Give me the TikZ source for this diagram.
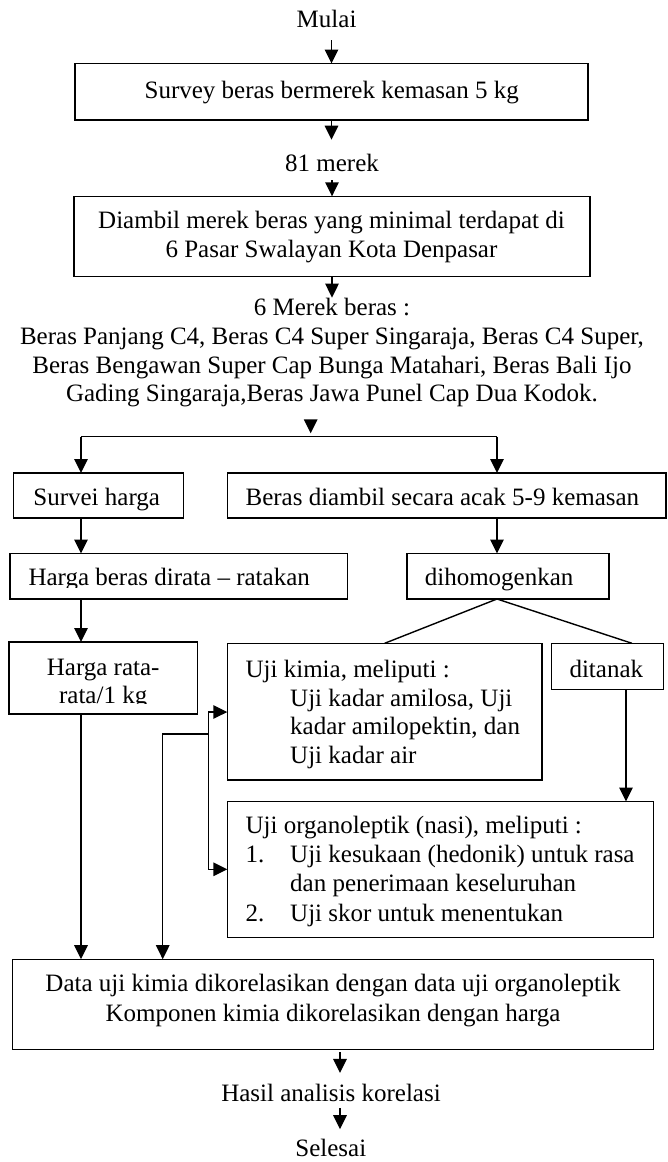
\documentclass[tikz,border=0pt]{standalone}
\usepackage{fontspec}
\setmainfont{Liberation Serif}
\usetikzlibrary{arrows.meta}
\newcommand{\fstrut}{\rule{0pt}{18pt}}
\begin{document}
\begin{tikzpicture}[x=1pt,y=-1pt,
  bx/.style={draw, line width=1.4pt, inner sep=0pt, outer sep=0pt},
  tx/.style={inner sep=0pt, outer sep=0pt, font=\fontsize{25}{28.75}\selectfont},
  txw/.style={inner sep=0pt, outer sep=0pt, font=\fontsize{25}{29.3}\selectfont},
  ln/.style={line width=1.4pt},
  arr/.style={line width=1.4pt, -{Triangle[length=14pt,width=13.5pt]}}]

\fill[white] (0,0) rectangle (667,1162);
\useasboundingbox (0,0) rectangle (667,1162);

% boxes
\node[bx, minimum width=513pt, minimum height=56.5pt] (survey) at (331.5,91.75) {};
\node[bx, minimum width=516pt, minimum height=79.9pt] (diambil) at (332,236.25) {};
\node[bx, minimum width=170pt, minimum height=45pt] (survei) at (98.5,495.5) {};
\node[bx, minimum width=438.5pt, minimum height=45pt] (berasd) at (446.55,495.5) {};
\node[bx, minimum width=337.5pt, minimum height=45.5pt] (hargab) at (178.75,576.25) {};
\node[bx, minimum width=202pt, minimum height=45.5pt] (dihomo) at (508,576.25) {};
\node[bx, minimum width=188.7pt, minimum height=71.8pt] (hargar) at (103.35,677.9) {};
\node[bx, minimum width=314.7pt, minimum height=136.7pt] (kimia) at (384.65,711.65) {};
\node[bx, minimum width=112pt, minimum height=45.9pt] (ditanak) at (607.7,666.25) {};
\node[bx, minimum width=426.4pt, minimum height=135.7pt] (organo) at (440.5,869.35) {};
\node[bx, minimum width=641.1pt, minimum height=90.3pt] (data) at (333.15,1004.35) {};

% texts
\node[tx, anchor=base] (mulai) at (326.6,27.3) {Mulai};
\node[tx, anchor=base] (surveyt) at (331.7,98.3) {Survey beras bermerek kemasan 5 kg};
\node[tx, anchor=base] (merek81) at (332,171.7) {81 merek};
\node[tx, anchor=north, align=center] (diambilt) at (331.5,210.3)
  {\fstrut Diambil merek beras yang minimal terdapat di\\6 Pasar Swalayan Kota Denpasar};
\node[tx, anchor=north, align=center] (list) at (332,297.6)
  {\fstrut 6 Merek beras :\\Beras Panjang C4, Beras C4 Super Singaraja, Beras C4 Super,\\Beras Bengawan Super Cap Bunga Matahari, Beras Bali Ijo\\Gading Singaraja,Beras Jawa Punel Cap Dua Kodok.};
\node[tx, anchor=base west] (surveit) at (33.4,505) {Survei harga};
\node[tx, anchor=base west] (berasdt) at (245.6,505) {Beras diambil secara acak 5-9 kemasan};
\node[tx, anchor=base west] (hargabt) at (28.5,585.7) {Harga beras dirata -- ratakan};
\node[tx, anchor=base west] (dihomot) at (424.8,585.7) {dihomogenkan};
\node[tx, anchor=north, align=center] (hargart) at (103.2,657) {\fstrut Harga rata-\\rata/1 kg};
\node[tx, anchor=north west, align=left] (kimiat) at (245.6,659.3)
  {\fstrut Uji kimia, meliputi :\\
   \hspace*{44.6pt}Uji kadar amilosa, Uji\\
   \hspace*{44.6pt}kadar amilopektin, dan\\
   \hspace*{44.6pt}Uji kadar air};
\node[tx, anchor=base west] (ditanakt) at (569.5,677.3) {ditanak};
\node[txw, anchor=north west, align=left] (organot) at (245.6,815.3)
  {\fstrut Uji organoleptik (nasi), meliputi :\\
   \makebox[44.6pt][l]{1.}Uji kesukaan (hedonik) untuk rasa\\
   \hspace*{44.6pt}dan penerimaan keseluruhan\\
   \makebox[44.6pt][l]{2.}Uji skor untuk menentukan};
\node[txw, anchor=north, align=center] (datat) at (333,973.7)
  {\fstrut Data uji kimia dikorelasikan dengan data uji organoleptik\\Komponen kimia dikorelasikan dengan harga};
\node[tx, anchor=base] (hasil) at (331,1101.7) {Hasil analisis korelasi};
\node[tx, anchor=base] (selesai) at (330.8,1156.5) {Selesai};

% clipped descenders as in the reference
\fill[white] (11,588.3) rectangle (346.3,598.2);
\fill[white] (10,704) rectangle (196.7,713);

% helper coordinates
\coordinate (split) at (310.7,436.7);
\coordinate (sl) at (81,436.7);
\coordinate (sr) at (497,436.7);
\coordinate (dt) at ([xshift=18.3pt]ditanak.south);
\coordinate (dr) at ([xshift=24.3pt]ditanak.north);
\coordinate (bk) at (208.3,712);
\coordinate (bk2) at (208.3,869.3);
\coordinate (bj) at (208.3,734);
\coordinate (bl) at (162.7,734);
\coordinate (ax) at (340,0);

% connectors
\draw[arr, shorten <=12.7pt] (survey.north |- mulai.south) -- (survey.north);
\draw[arr, shorten >=14.7pt] (survey.south) -- (survey.south |- merek81.north);
\draw[arr, shorten <=8.3pt] (diambil.north |- merek81.south) -- (diambil.north);
\draw[arr] (diambil.south) -- (diambil.south |- list.north);
\draw[arr, shorten <=12.9pt, shorten >=3.4pt] (split |- list.south) -- (split);
\draw[ln] (sl) -- (sr);
\draw[arr] (sl) -- (sl |- survei.north);
\draw[arr] (sr) -- (sr |- berasd.north);
\draw[arr] (sl |- survei.south) -- (sl |- hargab.north);
\draw[arr] (sr |- berasd.south) -- (sr |- dihomo.north);
\draw[arr] (sl |- hargab.south) -- (sl |- hargar.north);
\draw[ln] (kimia.north) -- (sr |- dihomo.south) -- (dr);
\draw[arr] (dt) -- (dt |- organo.north);
\draw[arr] (sl |- hargar.south) -- (sl |- data.north);
\draw[ln] (bk) -- (bk2);
\draw[arr] (bk) -- (bk -| kimia.west);
\draw[arr] (bk2) -- (bk2 -| organo.west);
\draw[arr] (bj) -- (bl) -- (bl |- data.north);
\draw[arr, shorten <=2.7pt, shorten >=11.4pt] (ax |- data.south) -- (ax |- hasil.north);
\draw[arr, shorten <=6.3pt, shorten >=10pt] (ax |- hasil.south) -- (ax |- selesai.north);
\end{tikzpicture}
\end{document}
